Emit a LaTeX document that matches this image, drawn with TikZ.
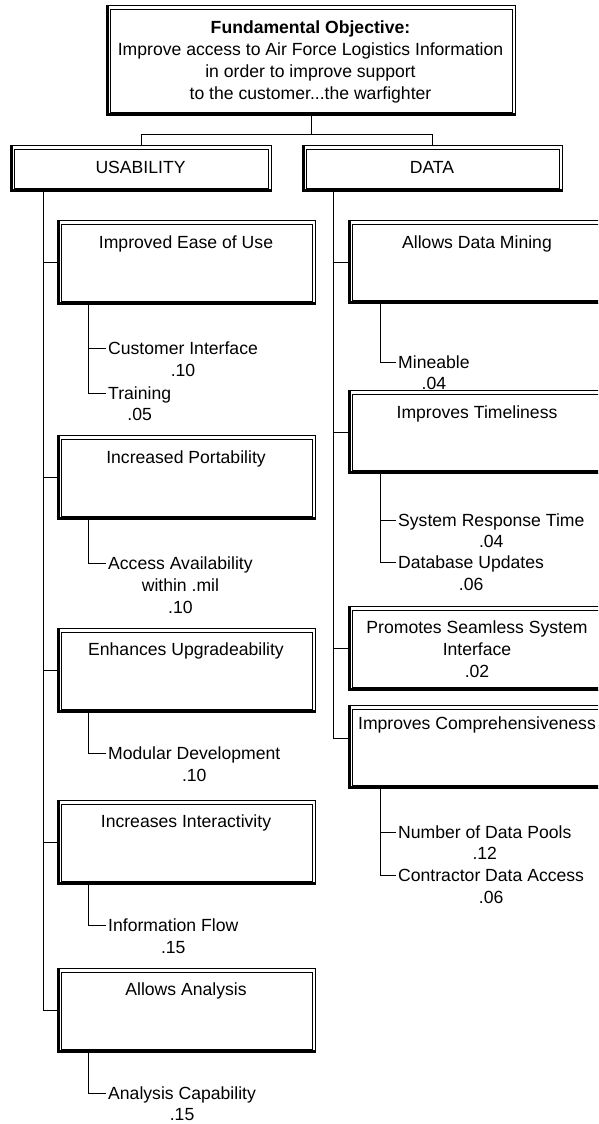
\documentclass[tikz,border=0pt]{standalone}
\usepackage{fontspec}
\setmainfont{Liberation Sans}
\usetikzlibrary{calc}
\begin{document}
\begin{tikzpicture}[x=1pt,y=-1pt,
  every node/.style={font=\fontsize{17.6}{21.7}\selectfont},
  frm/.style={draw, line width=1.3pt, inner sep=0pt, anchor=north west,
    path picture={
      \draw[line width=0.6pt] ([shift={(3.4pt,-3.4pt)}]path picture bounding box.north west) rectangle ([shift={(-3.4pt,3.4pt)}]path picture bounding box.south east);
      \fill (path picture bounding box.south west) rectangle ([shift={(2.2pt,0pt)}]path picture bounding box.north west);
      \fill (path picture bounding box.south west) rectangle ([shift={(0pt,2.2pt)}]path picture bounding box.south east);
    }},
  subbox/.style={frm, minimum width=258pt, minimum height=84pt},
  headbox/.style={frm, minimum height=46pt},
  btext/.style={anchor=base, align=center, inner sep=0pt},
  mtext/.style={anchor=north, align=center, inner sep=0pt},
  leaf/.style={anchor=west, inner xsep=2pt, inner ysep=0pt, text height=12.6pt, text depth=0pt},
  val/.style={inner sep=0pt, text height=12.6pt, text depth=0pt},
  conn/.style={line width=1pt}]
\fill[white] (0,0) rectangle (598,1124);
\clip (0,0) rectangle (598,1124);

% top
\node[frm, minimum width=409pt, minimum height=110pt] (fo) at (106,5) {};
\node[mtext] (fot) at (310.5,21) {\textbf{Fundamental Objective:}\\Improve access to Air Force Logistics Information\\in order to improve support\\to the customer...the warfighter};

% headers
\node[headbox, minimum width=261pt] (us) at (10,145) {};
\node[btext] (ust) at (140.5,173) {USABILITY};
\node[headbox, minimum width=260pt] (da) at (302,145) {};
\node[btext] (dat) at (432,173) {DATA};

\draw[conn] (fo.south) -- ++(0,18) coordinate (fj) -| (us.north);
\draw[conn] (fj) -| (da.north);

% usability boxes
\node[subbox] (eou) at (57,220) {};
\node[btext] at (186,248) {Improved Ease of Use};
\node[subbox] (port) at (57,435) {};
\node[btext] at (186,463) {Increased Portability};
\node[subbox] (upg) at (57,628) {};
\node[btext] at (186,655) {Enhances Upgradeability};
\node[subbox] (inter) at (57,800) {};
\node[btext] at (186,827) {Increases Interactivity};
\node[subbox] (anal) at (57,968) {};
\node[btext] at (186,995) {Allows Analysis};

\coordinate (usv) at ($(us.south west)+(33,0)$);
\draw[conn] (usv) |- (anal.west);
\foreach \b in {eou,port,upg,inter} \draw[conn] (usv |- \b.west) -- (\b.west);

% usability leaves
\node[leaf] (ci) at (106,348) {Customer Interface};
\node[val] at ($(ci.center)+(0,22)$) {.10};
\node[leaf] (tr) at (106,393) {Training};
\node[val] at ($(tr.center)+(0,21)$) {.05};
\coordinate (eouS) at ($(eou.south west)+(31,0)$);
\draw[conn] (eouS) |- (tr.west);
\draw[conn] (eouS |- ci.west) -- (ci.west);

\node[leaf] (aa) at (106,563) {Access Availability};
\node[val] (aa2) at ($(aa.center)+(0,22)$) {within .mil};
\node[val] at ($(aa.center)+(0,44)$) {.10};
\coordinate (portS) at ($(port.south west)+(31,0)$);
\draw[conn] (portS) |- (aa.west);

\node[leaf] (md) at (106,753) {Modular Development};
\node[val] at ($(md.center)+(0,22)$) {.10};
\coordinate (upgS) at ($(upg.south west)+(31,0)$);
\draw[conn] (upgS) |- (md.west);

\node[leaf] (ifl) at (106,925) {Information Flow};
\node[val] at ($(ifl.center)+(0,22)$) {.15};
\coordinate (interS) at ($(inter.south west)+(31,0)$);
\draw[conn] (interS) |- (ifl.west);

\node[leaf] (ac) at (106,1093) {Analysis Capability};
\node[val] at ($(ac.center)+(0,21)$) {.15};
\coordinate (analS) at ($(anal.south west)+(31,0)$);
\draw[conn] (analS) |- (ac.west);

% data boxes
\node[subbox, minimum height=83pt] (adm) at (348,220) {};
\node[btext] at (477,248) {Allows Data Mining};
\node[subbox, minimum height=83pt] (tim) at (348,390) {};
\node[btext] at (477,418) {Improves Timeliness};
\node[subbox] (pss) at (348,606) {};
\node[mtext] at (477,621) {Promotes Seamless System\\Interface\\.02};
\node[subbox, minimum height=83pt] (comp) at (348,705) {};
\node[btext] at (477,729) {Improves Comprehensiveness};

\coordinate (dv) at ($(da.south west)+(31,0)$);
\draw[conn] (dv) |- ([yshift=9pt]comp.west);
\foreach \b in {adm,tim,pss} \draw[conn] (dv |- \b.west) -- (\b.west);

% data leaves
\node[leaf] (mi) at (396,362) {Mineable};
\node[val] at ($(mi.center)+(0,21)$) {.04};
\coordinate (admS) at ($(adm.south west)+(32,0)$);
\draw[conn] (admS) |- (mi.west);

\node[leaf] (srt) at (396,520) {System Response Time};
\node[val] at ($(srt.center)+(0,21)$) {.04};
\node[leaf] (du) at (396,562) {Database Updates};
\node[val] at ($(du.center)+(0,22)$) {.06};
\coordinate (timS) at ($(tim.south west)+(32,0)$);
\draw[conn] (timS) |- (du.west);
\draw[conn] (timS |- srt.west) -- (srt.west);

\node[leaf] (ndp) at (396,832) {Number of Data Pools};
\node[val] at ($(ndp.center)+(0,21)$) {.12};
\node[leaf] (cda) at (396,875) {Contractor Data Access};
\node[val] at ($(cda.center)+(0,22)$) {.06};
\coordinate (compS) at ($(comp.south west)+(32,0)$);
\draw[conn] (compS) |- (cda.west);
\draw[conn] (compS |- ndp.west) -- (ndp.west);
\end{tikzpicture}
\end{document}
